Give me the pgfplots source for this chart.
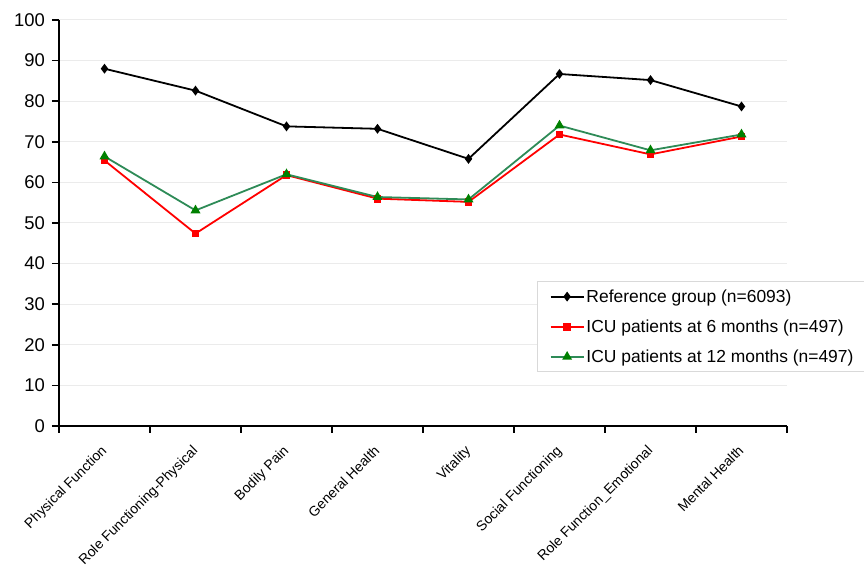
\documentclass[border=0pt]{standalone}
\usepackage{fontspec}
\setmainfont{Liberation Sans}
\usepackage{pgfplots}
\pgfplotsset{compat=1.18}
\definecolor{sixc}{RGB}{255,0,0}
\definecolor{twlc}{RGB}{46,139,87}
\definecolor{twlm}{RGB}{0,128,0}
\begin{document}
\begin{tikzpicture}
\begin{axis}[
 scale only axis, width=728bp, height=406bp,
 xmin=-0.5, xmax=7.5, ymin=0, ymax=100,
 axis x line*=bottom, axis y line*=left,
 axis line style={line width=2bp, black},
 tick align=outside,
 major tick length=7bp,
 tick style={black, line width=1.6bp},
 ytick={0,10,...,100},
 ymajorgrids, grid style={color=black!8, line width=1bp},
 /pgf/number format/assume math mode=true,
 y tick label style={font=\fontsize{18.5}{20}\selectfont, inner sep=2bp, xshift=-5bp},
 xtick={-0.5,0.5,...,7.5},
 xticklabels={},
 extra x ticks={0,1,2,3,4,5,6,7},
 extra x tick labels={Physical Function, Role Functioning-Physical, Bodily Pain, General Health, Vitality, Social Functioning, Role Function\_Emotional, Mental Health},
 extra x tick style={tick style={draw=none}, grid=none,
   xticklabel style={rotate=45, anchor=north east, font=\fontsize{14}{16}\selectfont, inner sep=1bp, yshift=-4bp, xshift=-10bp}},
 legend style={at={(0.657,0.357)}, anchor=north west, draw=black!15, line width=1bp,
   font=\fontsize{17.5}{20}\selectfont, row sep=12bp, inner xsep=12bp, inner ysep=6bp},
 legend cell align=left,
 legend image code/.code={\draw[mark repeat=2,mark phase=2] plot coordinates {(0cm,0cm)(0.58cm,0cm)(1.16cm,0cm)};},
]
\coordinate (ll) at (rel axis cs:0,0);
\coordinate (ur) at (rel axis cs:1,1);
\addplot[black, line width=1.8bp, mark=diamond*, mark size=3.5bp, mark options={solid, fill=black}] coordinates {
(0,88.0) (1,82.6) (2,73.8) (3,73.2) (4,65.8) (5,86.7) (6,85.2) (7,78.7)};
\addlegendentry{Reference group (n=6093)}
\addplot[sixc, line width=1.8bp, mark=square*, mark size=3bp, mark options={solid, fill=sixc}] coordinates {
(0,65.4) (1,47.4) (2,61.8) (3,56.0) (4,55.2) (5,71.8) (6,66.9) (7,71.3)};
\addlegendentry{ICU patients at 6 months (n=497)}
\addplot[twlc, line width=1.8bp, mark=triangle*, mark size=4bp, mark options={solid, fill=twlm, draw=twlm}] coordinates {
(0,66.4) (1,53.1) (2,62.0) (3,56.4) (4,55.8) (5,74.0) (6,67.9) (7,71.8)};
\addlegendentry{ICU patients at 12 months (n=497)}
\end{axis}
\pgfresetboundingbox
\path[use as bounding box] ([xshift=-59bp,yshift=-143bp]ll) rectangle ([xshift=77bp,yshift=20bp]ur);
\end{tikzpicture}
\end{document}
